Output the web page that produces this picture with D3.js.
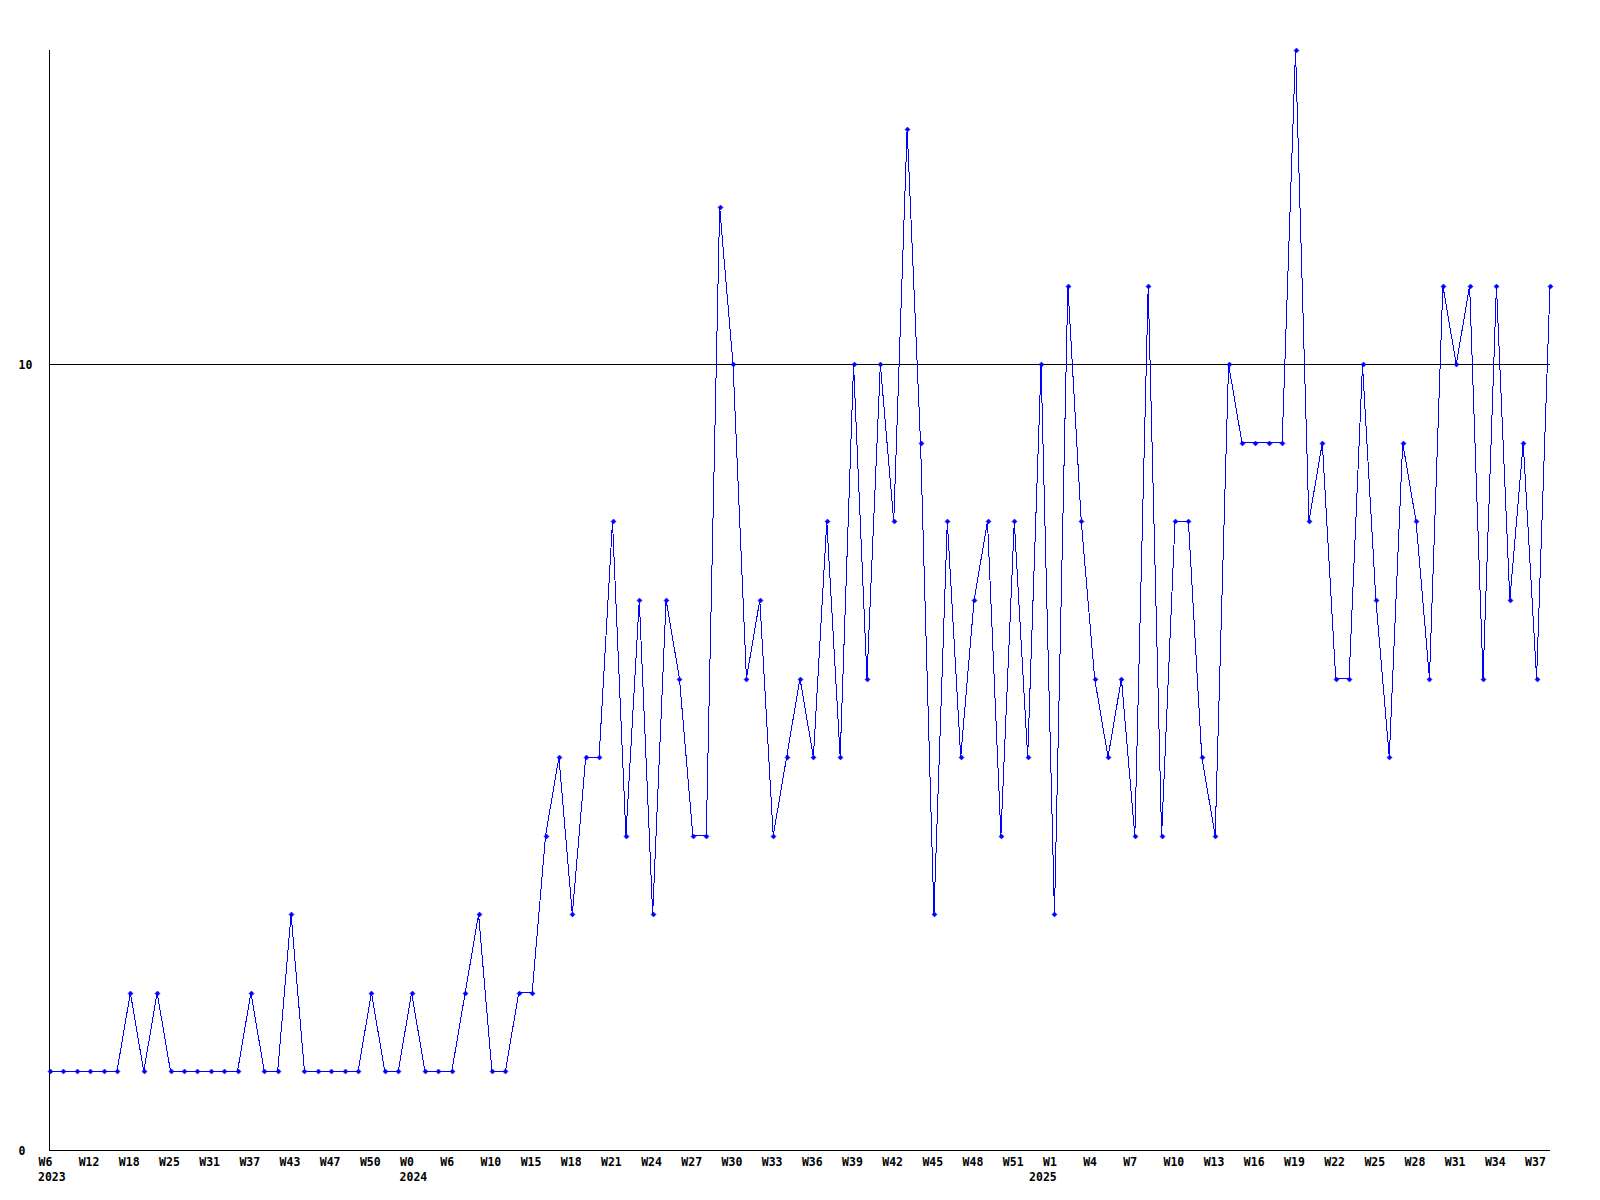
<!DOCTYPE html>
<html>
<head>
<meta charset="utf-8">
<script src="https://cdn.jsdelivr.net/npm/d3@7"></script>
<style>
  body { margin: 0; background: #fff; }
  text { font-family: "DejaVu Sans Mono", monospace; font-weight: bold; font-size: 11.5px; fill: #000; }
</style>
</head>
<body>
<svg width="1600" height="1200"></svg>
<script>
// weekly counts, one per point
var values = [
  1,1,1,1,1,1,2,1,2,1,
  1,1,1,1,1,2,1,1,3,1,
  1,1,1,1,2,1,1,2,1,1,
  1,2,3,1,1,2,2,4,5,3,
  5,5,8,4,7,3,7,6,4,4,
  12,10,6,7,4,5,6,5,8,5,
  10,6,10,8,13,9,3,8,5,7,
  8,4,8,5,10,3,11,8,6,5,
  6,4,11,4,8,8,5,4,10,9,
  9,9,9,14,8,9,6,6,10,7,
  5,9,8,6,11,10,11,6,11,7,
  9,6,11
];

// week labels, shown on every third point
var weekLabels = ["W6","W12","W18","W25","W31","W37","W43","W47","W50","W0",
  "W6","W10","W15","W18","W21","W24","W27","W30","W33","W36",
  "W39","W42","W45","W48","W51","W1","W4","W7","W10","W13",
  "W16","W19","W22","W25","W28","W31","W34","W37"];
var labelStep = 3;

// year labels and the point where each year starts
var years = ["2023", "2024", "2025"];
var yearStart = [0, 27, 74];

var yTicks = [0, 10];
var yGrid = [10];

var svg = d3.select("svg"),
    plotLeft = 50, plotRight = 1550, plotTop = 50, plotBottom = 1150;

var idx = d3.range(values.length);

var x = d3.scalePoint()
    .domain(idx)
    .range([plotLeft, plotRight]);

var y = d3.scaleLinear()
    .domain([0, 14])
    .range([plotBottom, plotTop]);

// grid line at 10
svg.append("g")
  .selectAll("line")
  .data(yGrid)
  .enter().append("line")
    .attr("x1", plotLeft)
    .attr("x2", plotRight)
    .attr("y1", function(d) { return Math.round(y(d)) + 0.5; })
    .attr("y2", function(d) { return Math.round(y(d)) + 0.5; })
    .attr("stroke", "#000")
    .attr("shape-rendering", "crispEdges");

// x axis
var xAxis = d3.axisBottom(x)
    .tickValues(idx.filter(function(d) { return d % labelStep === 0; }))
    .tickFormat(function(d) { return weekLabels[d / labelStep]; })
    .tickSize(0)
    .tickPadding(0);

var gx = svg.append("g")
    .attr("transform", "translate(0," + (plotBottom + 0.5) + ")")
    .call(xAxis);
gx.select(".domain").attr("stroke", "#000").attr("shape-rendering", "crispEdges")
    .attr("d", "M" + (plotLeft - 0.5) + ",0H" + plotRight);
gx.selectAll("text")
    .attr("text-anchor", "start")
    .attr("x", -12)
    .attr("y", 15)
    .attr("dy", null)
    .attr("font-family", null)
    .attr("font-size", null)
    .attr("fill", null);

// years under the week labels
svg.append("g")
  .selectAll("text")
  .data(years)
  .enter().append("text")
    .attr("x", function(d, i) { return x(yearStart[i]) - 12; })
    .attr("y", plotBottom + 31)
    .text(function(d) { return d; });

// y axis
var yAxis = d3.axisLeft(y)
    .tickValues(yTicks)
    .tickSize(0)
    .tickPadding(0);

var gy = svg.append("g")
    .attr("transform", "translate(" + (plotLeft - 0.5) + ",0)")
    .call(yAxis);
gy.select(".domain").attr("stroke", "#000").attr("shape-rendering", "crispEdges")
    .attr("d", "M0," + plotTop + "V" + (plotBottom + 0.5));
gy.selectAll("text")
    .attr("text-anchor", "start")
    .attr("x", -31)
    .attr("dy", "0.35em")
    .attr("font-family", null)
    .attr("font-size", null)
    .attr("fill", null);

// the series
var line = d3.line()
    .x(function(d, i) { return x(i); })
    .y(function(d) { return y(d); });

var plot = svg.append("g");

plot.append("path")
    .datum(values)
    .attr("d", line)
    .attr("fill", "none")
    .attr("stroke", "#0000ff")
    .attr("stroke-width", 1)
    .attr("shape-rendering", "crispEdges");

plot.selectAll("path.pt")
    .data(values)
    .enter().append("path")
    .attr("class", "pt")
    .attr("d", function(d, i) {
      var cx = Math.round(x(i)) + 0.5, cy = Math.round(y(d)) + 0.5;
      return "M" + (cx - 2.5) + "," + cy + "L" + cx + "," + (cy - 2.5) +
             "L" + (cx + 2.5) + "," + cy + "L" + cx + "," + (cy + 2.5) + "Z";
    })
    .attr("fill", "#0000ff")
    .attr("stroke", "#0000ff")
    .attr("stroke-width", 0.5);
</script>
</body>
</html>
